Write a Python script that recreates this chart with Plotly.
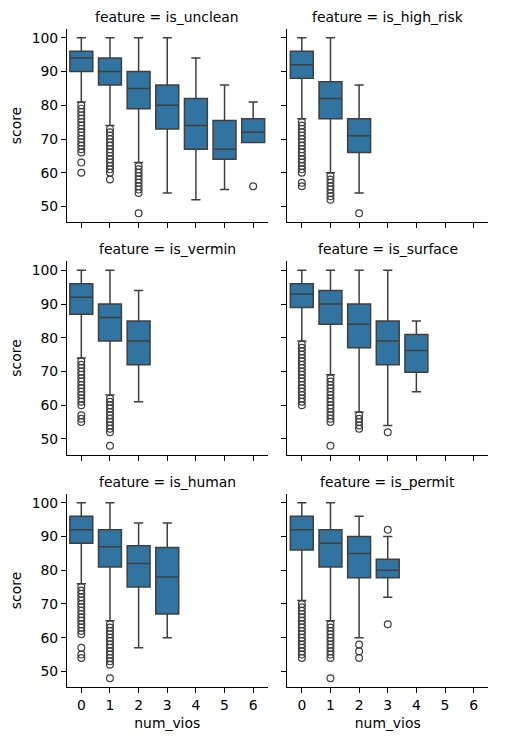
import plotly.graph_objects as go
from plotly.subplots import make_subplots

# num_vios categories on the x axis
num_vios = [0, 1, 2, 3, 4, 5, 6]

features = ["is_unclean", "is_high_risk", "is_vermin", "is_surface", "is_human", "is_permit"]

# box statistics per feature (one value per num_vios present)
unclean_q1 = [90, 86, 79, 73, 67, 64, 69]
unclean_med = [94, 90, 85, 80, 74, 67, 72]
unclean_q3 = [96, 94, 90, 86, 82, 75.5, 76]
unclean_lo = [81, 74, 63, 54, 52, 55, 69]
unclean_hi = [100, 100, 100, 100, 94, 86, 81]
unclean_out = [
    list(range(66, 81)) + [63, 60],
    list(range(60, 74)) + [58],
    list(range(54, 63)) + [48],
    [], [], [], [56],
]

high_risk_q1 = [88, 76, 66]
high_risk_med = [92, 82, 71]
high_risk_q3 = [96, 87, 76]
high_risk_lo = [76, 60, 54]
high_risk_hi = [100, 100, 86]
high_risk_out = [
    list(range(60, 76)) + [57, 56],
    list(range(52, 60)),
    [48],
]

vermin_q1 = [87, 79, 72]
vermin_med = [92, 86, 79]
vermin_q3 = [96, 90, 85]
vermin_lo = [74, 63, 61]
vermin_hi = [100, 100, 94]
vermin_out = [
    list(range(60, 74)) + [57, 56, 55],
    list(range(52, 63)) + [48],
    [],
]

surface_q1 = [89, 84, 77, 72, 69.75]
surface_med = [93, 90, 84, 79, 76.25]
surface_q3 = [96, 94, 90, 85, 81]
surface_lo = [79, 69, 58, 54, 64]
surface_hi = [100, 100, 100, 100, 85]
surface_out = [
    list(range(60, 79)),
    list(range(55, 69)) + [48],
    list(range(53, 58)),
    [52],
    [],
]

human_q1 = [88, 81, 75, 67]
human_med = [92, 87, 82, 78]
human_q3 = [96, 92, 87.25, 86.75]
human_lo = [76, 65, 57, 60]
human_hi = [100, 100, 94, 94]
human_out = [
    list(range(61, 76)) + [57, 55, 54],
    list(range(52, 65)) + [48],
    [],
    [],
]

permit_q1 = [86, 81, 77.75, 77.75]
permit_med = [92, 88, 85, 80]
permit_q3 = [96, 92, 90, 83.25]
permit_lo = [71, 65, 60, 72]
permit_hi = [100, 100, 96, 90]
permit_out = [
    list(range(54, 71)),
    list(range(54, 65)) + [48],
    [58, 56, 54],
    [92, 64],
]

stats = {
    "is_unclean": (unclean_q1, unclean_med, unclean_q3, unclean_lo, unclean_hi, unclean_out),
    "is_high_risk": (high_risk_q1, high_risk_med, high_risk_q3, high_risk_lo, high_risk_hi, high_risk_out),
    "is_vermin": (vermin_q1, vermin_med, vermin_q3, vermin_lo, vermin_hi, vermin_out),
    "is_surface": (surface_q1, surface_med, surface_q3, surface_lo, surface_hi, surface_out),
    "is_human": (human_q1, human_med, human_q3, human_lo, human_hi, human_out),
    "is_permit": (permit_q1, permit_med, permit_q3, permit_lo, permit_hi, permit_out),
}

box_color = "#3274a1"
line_color = "#3f3f3f"
font = "DejaVu Sans"
fs = 13.9

fig = make_subplots(
    rows=3, cols=2,
    shared_xaxes=True, shared_yaxes=True,
    horizontal_spacing=0.0475, vertical_spacing=0.06,
    subplot_titles=[f"feature = {f}" for f in features],
)

for i, feat in enumerate(features):
    row, col = i // 2 + 1, i % 2 + 1
    q1, med, q3, lo, hi, out = stats[feat]
    xs = num_vios[:len(q1)]

    fig.add_trace(go.Box(
        x=xs, q1=q1, median=med, q3=q3, lowerfence=lo, upperfence=hi,
        width=0.8, whiskerwidth=0.4,
        fillcolor=box_color,
        line=dict(color=line_color, width=1.5),
        boxpoints=False, showlegend=False, hoverinfo="skip",
    ), row=row, col=col)

    # outliers drawn separately as open circles
    ox, oy = [], []
    for x, pts in zip(xs, out):
        ox += [x] * len(pts)
        oy += pts
    fig.add_trace(go.Scatter(
        x=ox, y=oy, mode="markers",
        marker=dict(symbol="circle-open", size=6.8, color=line_color, line=dict(width=1.2)),
        showlegend=False, hoverinfo="skip",
    ), row=row, col=col)

fig.update_xaxes(
    range=[-0.5, 6.5], tickvals=num_vios, automargin=False,
    showline=True, linecolor="black", linewidth=1.1,
    ticks="outside", ticklen=5, tickwidth=1.1, tickcolor="black",
    showgrid=False, zeroline=False,
    tickfont=dict(size=fs, color="black"),
)
fig.update_yaxes(
    range=[45.4, 102.6], tickvals=[50, 60, 70, 80, 90, 100], automargin=False,
    showline=True, linecolor="black", linewidth=1.1,
    ticks="outside", ticklen=5, tickwidth=1.1, tickcolor="black",
    showgrid=False, zeroline=False,
    tickfont=dict(size=fs, color="black"),
)
for r in (1, 2, 3):
    fig.update_yaxes(title=dict(text="score", font=dict(size=fs, color="black"), standoff=6), row=r, col=1)
for c in (1, 2):
    fig.update_xaxes(title=dict(text="num_vios", font=dict(size=fs, color="black"), standoff=6), row=3, col=c)

fig.update_annotations(font=dict(size=fs, color="black", family=font), yshift=2)

# page body has an 8px margin, so the figure is a bit smaller than the window
fig.update_layout(
    width=499, height=732,
    margin=dict(l=59, r=19, t=21, b=53),
    plot_bgcolor="white", paper_bgcolor="white",
    font=dict(family=font, color="black"),
)

fig.write_html("out.html")
